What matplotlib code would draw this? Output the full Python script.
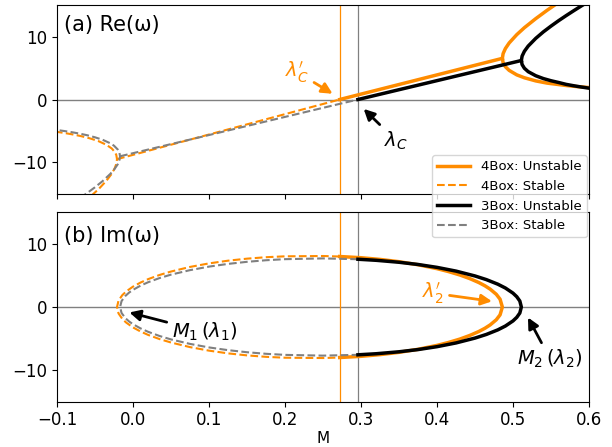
import numpy as np
import matplotlib.pyplot as plt
from matplotlib.lines import Line2D

ORANGE = "darkorange"
GRAY = "gray"

# critical values of M (where Re(omega) crosses zero)
lam_c_4box = 0.272
lam_c_3box = 0.296

# ---- Re(omega): straight part between the two branch points ----
box4_mid_m = [-0.021, 0.272, 0.486]
box4_mid_re = [-9.47, 0.0, 6.53]
box3_mid_m = [-0.017, 0.296, 0.511]
box3_mid_re = [-9.01, 0.0, 6.19]

# ---- Re(omega): real roots left of M1 ----
box4_left_m = [-0.021, -0.022, -0.024, -0.028, -0.035, -0.045, -0.055, -0.06, -0.07, -0.08, -0.09, -0.1]
box4_left_up = [-9.47, -8.78, -8.31, -7.77, -7.19, -6.63, -6.23, -6.06, -5.77, -5.53, -5.32, -5.14]
box4_left_lo = [-9.47, -10.25, -10.9, -11.8, -12.9, -14.2, -15.3]
box3_left_m = [-0.017, -0.018, -0.02, -0.025, -0.03, -0.04, -0.05, -0.06, -0.07, -0.08, -0.09, -0.1]
box3_left_up = [-9.01, -8.37, -7.94, -7.33, -6.94, -6.39, -6.00, -5.68, -5.42, -5.20, -5.01, -4.84]
box3_left_lo = [-9.01, -9.71, -10.27, -11.16, -11.83, -12.96, -13.93, -14.82, -15.66]

# ---- Re(omega): real roots right of M2 ----
box4_right_m = [0.486, 0.487, 0.49, 0.495, 0.505, 0.515, 0.53, 0.545, 0.555, 0.57, 0.585, 0.6]
box4_right_up = [6.53, 7.28, 8.09, 8.98, 10.30, 11.40, 12.84, 14.17, 15.00, 16.2]
box4_right_lo = [6.53, 5.84, 5.20, 4.62, 3.91, 3.45, 2.95, 2.60, 2.45, 2.22, 2.04, 1.90]
box3_right_m = [0.511, 0.512, 0.515, 0.52, 0.53, 0.54, 0.55, 0.56, 0.57, 0.58, 0.59, 0.6]
box3_right_up = [6.19, 6.89, 7.65, 8.48, 9.71, 10.74, 11.65, 12.51, 13.32, 14.10, 14.86, 15.59]
box3_right_lo = [6.19, 5.55, 4.96, 4.42, 3.77, 3.32, 2.98, 2.70, 2.40, 2.18, 1.98, 1.80]

# ---- Im(omega): upper half of the complex pair ----
box4_im_m = [-0.021, -0.019, -0.014, -0.009, 0.0, 0.01, 0.02, 0.035, 0.05, 0.075, 0.1, 0.125,
             0.15, 0.175, 0.2, 0.25, 0.272, 0.3, 0.325, 0.35, 0.375, 0.4, 0.415, 0.43,
             0.443, 0.455, 0.463, 0.47, 0.478, 0.483, 0.486]
box4_im = [0.0, 1.02, 1.89, 2.46, 3.23, 3.88, 4.42, 5.08, 5.62, 6.35, 6.91, 7.34,
           7.66, 7.89, 8.03, 8.08, 8.00, 7.81, 7.54, 7.18, 6.70, 6.08, 5.62, 5.08,
           4.51, 3.88, 3.37, 2.83, 2.02, 1.24, 0.0]
box3_im_m = [-0.017, -0.015, -0.01, -0.005, 0.0, 0.01, 0.02, 0.035, 0.05, 0.075, 0.1, 0.125,
             0.15, 0.175, 0.2, 0.25, 0.296, 0.32, 0.35, 0.375, 0.4, 0.425, 0.45, 0.465,
             0.48, 0.49, 0.5, 0.505, 0.509, 0.511]
box3_im = [0.0, 0.95, 1.76, 2.30, 2.72, 3.39, 3.93, 4.59, 5.13, 5.84, 6.40, 6.83,
           7.16, 7.41, 7.58, 7.70, 7.57, 7.40, 7.09, 6.74, 6.28, 5.69, 4.92, 4.34,
           3.62, 3.01, 2.20, 1.63, 0.95, 0.0]


def closed_half(m, im):
    # upper branch traced backwards, then the conjugate branch forwards
    m = np.asarray(m)
    im = np.asarray(im)
    return np.concatenate([m[::-1], m[1:]]), np.concatenate([im[::-1], -im[1:]])


fig = plt.figure(figsize=(6.12, 4.47), dpi=100)
ax1 = fig.add_axes([0.0931, 0.566, 0.8693, 0.4228])
ax2 = fig.add_axes([0.0931, 0.1013, 0.8693, 0.4237], sharex=ax1)

for ax in (ax1, ax2):
    ax.axhline(0, color=GRAY, lw=1)
    ax.axvline(lam_c_4box, color=ORANGE, lw=0.9)
    ax.axvline(lam_c_3box, color=GRAY, lw=0.9)

styles = [
    (ORANGE, ORANGE, lam_c_4box, box4_mid_m, box4_mid_re, box4_left_m, box4_left_up, box4_left_lo,
     box4_right_m, box4_right_up, box4_right_lo, box4_im_m, box4_im),
    (GRAY, "black", lam_c_3box, box3_mid_m, box3_mid_re, box3_left_m, box3_left_up, box3_left_lo,
     box3_right_m, box3_right_up, box3_right_lo, box3_im_m, box3_im),
]

for (c_st, c_un, lam, mid_m, mid_re, l_m, l_up, l_lo, r_m, r_up, r_lo, im_m, im) in styles:
    # top panel: Re(omega)
    lo_m = l_m[:len(l_lo)]
    ax1.plot(lo_m[::-1] + l_m[1:], l_lo[::-1] + l_up[1:], "--", color=c_st, lw=1.5)
    ax1.plot(mid_m[:2], mid_re[:2], "--", color=c_st, lw=1.5)
    ax1.plot(mid_m[1:], mid_re[1:], "-", color=c_un, lw=2.5)
    up_m = r_m[:len(r_up)]
    ax1.plot(up_m[::-1] + r_m[1:], r_up[::-1] + r_lo[1:], "-", color=c_un, lw=2.5)

    # bottom panel: Im(omega)
    k = im_m.index(lam)
    xs, ys = closed_half(im_m[:k + 1], im[:k + 1])
    ax2.plot(xs, ys, "--", color=c_st, lw=1.5)
    xs, ys = closed_half(im_m[k:][::-1], im[k:][::-1])
    ax2.plot(xs, ys, "-", color=c_un, lw=2.5)

for ax in (ax1, ax2):
    ax.set_xlim(-0.1, 0.6)
    ax.set_ylim(-15, 15)
    ax.set_yticks([-10, 0, 10])
    ax.tick_params(labelsize=12)

ax2.set_xticks([-0.1, 0.0, 0.1, 0.2, 0.3, 0.4, 0.5, 0.6])
ax1.tick_params(labelbottom=False)
ax2.set_xlabel("M", fontsize=11, labelpad=1)

ax1.text(0.013, 0.945, "(a) Re(ω)", transform=ax1.transAxes, fontsize=15, va="top")
ax2.text(0.013, 0.93, "(b) Im(ω)", transform=ax2.transAxes, fontsize=15, va="top")

arrow = dict(arrowstyle="-|>", lw=2, mutation_scale=16)
ax1.annotate(r"$\lambda_C'$", xy=(0.2658, 0.68), xytext=(0.2158, 4.35), color=ORANGE,
             fontsize=14, ha="center", va="center", arrowprops=dict(arrow, color=ORANGE))
ax1.annotate(r"$\lambda_C$", xy=(0.3009, -1.18), xytext=(0.346, -6.5), color="black",
             fontsize=14, ha="center", va="center", arrowprops=dict(arrow, color="black"))
ax2.annotate(r"$\lambda_2'$", xy=(0.476, 0.84), xytext=(0.395, 2.2), color=ORANGE,
             fontsize=14, ha="center", va="center", arrowprops=dict(arrow, color=ORANGE))
ax2.annotate(r"$M_2\,(\lambda_2)$", xy=(0.518, -1.27), xytext=(0.549, -8.25), color="black",
             fontsize=14, ha="center", va="center", arrowprops=dict(arrow, color="black"))
ax2.annotate(r"$M_1\,(\lambda_1)$", xy=(-0.0083, -0.75), xytext=(0.0947, -3.97), color="black",
             fontsize=14, ha="center", va="center", arrowprops=dict(arrow, color="black"))

handles = [
    Line2D([], [], color=ORANGE, lw=2.5, ls="-"),
    Line2D([], [], color=ORANGE, lw=1.5, ls="--"),
    Line2D([], [], color="black", lw=2.5, ls="-"),
    Line2D([], [], color=GRAY, lw=1.5, ls="--"),
]
labels = ["4Box: Unstable", "4Box: Stable", "3Box: Unstable", "3Box: Stable"]
fig.legend(handles, labels, loc="upper right", bbox_to_anchor=(0.959, 0.653),
           borderaxespad=0, fontsize=9.5, handlelength=2.5)

fig.savefig("out.png", dpi=100)
